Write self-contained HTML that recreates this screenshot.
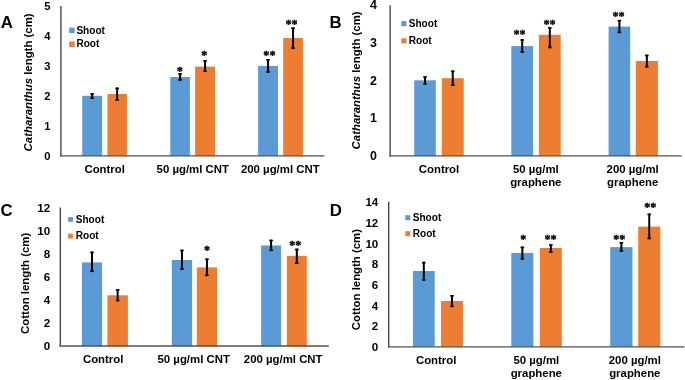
<!DOCTYPE html>
<html><head><meta charset="utf-8"><style>
html,body{margin:0;padding:0;background:#fff;}
body{width:685px;height:380px;overflow:hidden;}
svg{display:block;will-change:transform;}
text{font-family:"Liberation Sans",sans-serif;font-weight:bold;fill:#000;}
</style></head><body>
<svg width="685" height="380" viewBox="0 0 685 380">
<rect x="0" y="0" width="685" height="380" fill="#fff"/>
<text x="0.80" y="27.90" font-size="16.8" text-anchor="start" >A</text>
<rect x="82.20" y="95.80" width="19.90" height="60.00" fill="#5B9BD5"/>
<rect x="107.40" y="94.00" width="19.50" height="61.80" fill="#ED7D31"/>
<rect x="170.30" y="77.00" width="19.60" height="78.80" fill="#5B9BD5"/>
<rect x="195.10" y="66.60" width="19.90" height="89.20" fill="#ED7D31"/>
<rect x="258.10" y="65.90" width="19.90" height="89.90" fill="#5B9BD5"/>
<rect x="283.20" y="38.00" width="19.70" height="117.80" fill="#ED7D31"/>
<line x1="60.90" y1="6.00" x2="60.90" y2="156.40" stroke="#3a3a3a" stroke-width="1.3"/>
<line x1="60.30" y1="155.80" x2="324.30" y2="155.80" stroke="#505050" stroke-width="1.3"/>
<line x1="92.15" y1="93.20" x2="92.15" y2="99.00" stroke="#000" stroke-width="2.0"/>
<line x1="90.35" y1="94.00" x2="93.95" y2="94.00" stroke="#000" stroke-width="1.6"/>
<line x1="90.35" y1="98.20" x2="93.95" y2="98.20" stroke="#000" stroke-width="1.6"/>
<line x1="117.15" y1="87.60" x2="117.15" y2="100.80" stroke="#000" stroke-width="2.0"/>
<line x1="115.35" y1="88.40" x2="118.95" y2="88.40" stroke="#000" stroke-width="1.6"/>
<line x1="115.35" y1="100.00" x2="118.95" y2="100.00" stroke="#000" stroke-width="1.6"/>
<line x1="180.10" y1="73.00" x2="180.10" y2="80.60" stroke="#000" stroke-width="2.0"/>
<line x1="178.30" y1="73.80" x2="181.90" y2="73.80" stroke="#000" stroke-width="1.6"/>
<line x1="178.30" y1="79.80" x2="181.90" y2="79.80" stroke="#000" stroke-width="1.6"/>
<line x1="205.05" y1="60.20" x2="205.05" y2="71.90" stroke="#000" stroke-width="2.0"/>
<line x1="203.25" y1="61.00" x2="206.85" y2="61.00" stroke="#000" stroke-width="1.6"/>
<line x1="203.25" y1="71.10" x2="206.85" y2="71.10" stroke="#000" stroke-width="1.6"/>
<line x1="268.05" y1="59.00" x2="268.05" y2="72.70" stroke="#000" stroke-width="2.0"/>
<line x1="266.25" y1="59.80" x2="269.85" y2="59.80" stroke="#000" stroke-width="1.6"/>
<line x1="266.25" y1="71.90" x2="269.85" y2="71.90" stroke="#000" stroke-width="1.6"/>
<line x1="293.05" y1="27.40" x2="293.05" y2="48.80" stroke="#000" stroke-width="2.0"/>
<line x1="291.25" y1="28.20" x2="294.85" y2="28.20" stroke="#000" stroke-width="1.6"/>
<line x1="291.25" y1="48.00" x2="294.85" y2="48.00" stroke="#000" stroke-width="1.6"/>
<text x="179.80" y="74.79" font-size="12.1" text-anchor="middle" stroke="#000" stroke-width="0.35" style="font-family:'Liberation Serif',serif">*</text>
<text x="204.25" y="58.99" font-size="12.1" text-anchor="middle" stroke="#000" stroke-width="0.35" style="font-family:'Liberation Serif',serif">*</text>
<text x="269.40" y="58.99" font-size="12.1" text-anchor="middle" stroke="#000" stroke-width="0.35" style="font-family:'Liberation Serif',serif">**</text>
<text x="291.55" y="27.59" font-size="12.1" text-anchor="middle" stroke="#000" stroke-width="0.35" style="font-family:'Liberation Serif',serif">**</text>
<text x="50.60" y="160.01" font-size="11.2" text-anchor="end" >0</text>
<text x="50.60" y="130.05" font-size="11.2" text-anchor="end" >1</text>
<text x="50.60" y="100.09" font-size="11.2" text-anchor="end" >2</text>
<text x="50.60" y="70.13" font-size="11.2" text-anchor="end" >3</text>
<text x="50.60" y="40.17" font-size="11.2" text-anchor="end" >4</text>
<text x="50.60" y="10.21" font-size="11.2" text-anchor="end" >5</text>
<rect x="69.20" y="27.60" width="5.50" height="5.50" fill="#5B9BD5"/>
<rect x="69.20" y="41.50" width="5.50" height="5.50" fill="#ED7D31"/>
<text x="76.40" y="33.60" font-size="10.1" text-anchor="start" >Shoot</text>
<text x="76.40" y="47.10" font-size="10.1" text-anchor="start" >Root</text>
<text transform="translate(31.50,82.40) rotate(-90)" x="0" y="0" font-size="11.4" text-anchor="middle"><tspan font-style="italic">Catharanthus</tspan> length (cm)</text>
<text x="104.70" y="172.90" font-size="11.4" text-anchor="middle" >Control</text>
<text x="192.80" y="172.70" font-size="11.4" text-anchor="middle" >50 µg/ml CNT</text>
<text x="280.30" y="172.90" font-size="11.4" text-anchor="middle" >200 µg/ml CNT</text>
<text x="329.50" y="28.20" font-size="16.8" text-anchor="start" >B</text>
<rect x="414.20" y="80.30" width="21.60" height="75.60" fill="#5B9BD5"/>
<rect x="441.80" y="78.20" width="21.90" height="77.70" fill="#ED7D31"/>
<rect x="511.30" y="46.10" width="21.80" height="109.80" fill="#5B9BD5"/>
<rect x="538.90" y="34.80" width="21.80" height="121.10" fill="#ED7D31"/>
<rect x="608.60" y="26.60" width="21.60" height="129.30" fill="#5B9BD5"/>
<rect x="635.80" y="61.00" width="22.10" height="94.90" fill="#ED7D31"/>
<line x1="390.10" y1="5.20" x2="390.10" y2="156.50" stroke="#3a3a3a" stroke-width="1.3"/>
<line x1="389.50" y1="155.90" x2="681.70" y2="155.90" stroke="#505050" stroke-width="1.3"/>
<line x1="425.00" y1="76.30" x2="425.00" y2="84.50" stroke="#000" stroke-width="2.0"/>
<line x1="423.20" y1="77.10" x2="426.80" y2="77.10" stroke="#000" stroke-width="1.6"/>
<line x1="423.20" y1="83.70" x2="426.80" y2="83.70" stroke="#000" stroke-width="1.6"/>
<line x1="452.75" y1="70.50" x2="452.75" y2="85.80" stroke="#000" stroke-width="2.0"/>
<line x1="450.95" y1="71.30" x2="454.55" y2="71.30" stroke="#000" stroke-width="1.6"/>
<line x1="450.95" y1="85.00" x2="454.55" y2="85.00" stroke="#000" stroke-width="1.6"/>
<line x1="522.20" y1="39.20" x2="522.20" y2="52.70" stroke="#000" stroke-width="2.0"/>
<line x1="520.40" y1="40.00" x2="524.00" y2="40.00" stroke="#000" stroke-width="1.6"/>
<line x1="520.40" y1="51.90" x2="524.00" y2="51.90" stroke="#000" stroke-width="1.6"/>
<line x1="549.80" y1="27.10" x2="549.80" y2="48.20" stroke="#000" stroke-width="2.0"/>
<line x1="548.00" y1="27.90" x2="551.60" y2="27.90" stroke="#000" stroke-width="1.6"/>
<line x1="548.00" y1="47.40" x2="551.60" y2="47.40" stroke="#000" stroke-width="1.6"/>
<line x1="619.40" y1="19.90" x2="619.40" y2="33.10" stroke="#000" stroke-width="2.0"/>
<line x1="617.60" y1="20.70" x2="621.20" y2="20.70" stroke="#000" stroke-width="1.6"/>
<line x1="617.60" y1="32.30" x2="621.20" y2="32.30" stroke="#000" stroke-width="1.6"/>
<line x1="646.85" y1="54.70" x2="646.85" y2="67.40" stroke="#000" stroke-width="2.0"/>
<line x1="645.05" y1="55.50" x2="648.65" y2="55.50" stroke="#000" stroke-width="1.6"/>
<line x1="645.05" y1="66.60" x2="648.65" y2="66.60" stroke="#000" stroke-width="1.6"/>
<text x="519.60" y="38.29" font-size="12.1" text-anchor="middle" stroke="#000" stroke-width="0.35" style="font-family:'Liberation Serif',serif">**</text>
<text x="549.60" y="28.49" font-size="12.1" text-anchor="middle" stroke="#000" stroke-width="0.35" style="font-family:'Liberation Serif',serif">**</text>
<text x="618.50" y="19.59" font-size="12.1" text-anchor="middle" stroke="#000" stroke-width="0.35" style="font-family:'Liberation Serif',serif">**</text>
<text x="377.00" y="159.94" font-size="12.4" text-anchor="end" >0</text>
<text x="377.00" y="122.26" font-size="12.4" text-anchor="end" >1</text>
<text x="377.00" y="84.59" font-size="12.4" text-anchor="end" >2</text>
<text x="377.00" y="46.91" font-size="12.4" text-anchor="end" >3</text>
<text x="377.00" y="9.24" font-size="12.4" text-anchor="end" >4</text>
<rect x="401.30" y="21.10" width="5.10" height="5.10" fill="#5B9BD5"/>
<rect x="401.30" y="38.30" width="5.10" height="5.10" fill="#ED7D31"/>
<text x="408.70" y="26.70" font-size="10.1" text-anchor="start" >Shoot</text>
<text x="408.70" y="43.70" font-size="10.1" text-anchor="start" >Root</text>
<text transform="translate(360.00,80.40) rotate(-90)" x="0" y="0" font-size="11.4" text-anchor="middle"><tspan font-style="italic">Catharanthus</tspan> length (cm)</text>
<text x="439.00" y="173.40" font-size="11.4" text-anchor="middle" >Control</text>
<text x="535.80" y="173.40" font-size="11.4" text-anchor="middle" >50 µg/ml</text>
<text x="535.80" y="186.40" font-size="11.4" text-anchor="middle" >graphene</text>
<text x="632.70" y="173.40" font-size="11.4" text-anchor="middle" >200 µg/ml</text>
<text x="632.70" y="186.40" font-size="11.4" text-anchor="middle" >graphene</text>
<text x="0.50" y="216.30" font-size="16.8" text-anchor="start" >C</text>
<rect x="81.90" y="262.40" width="20.20" height="83.60" fill="#5B9BD5"/>
<rect x="107.40" y="295.30" width="20.50" height="50.70" fill="#ED7D31"/>
<rect x="171.80" y="260.00" width="20.30" height="86.00" fill="#5B9BD5"/>
<rect x="196.80" y="267.40" width="20.30" height="78.60" fill="#ED7D31"/>
<rect x="261.10" y="245.50" width="20.00" height="100.50" fill="#5B9BD5"/>
<rect x="286.80" y="255.90" width="20.00" height="90.10" fill="#ED7D31"/>
<line x1="60.30" y1="207.60" x2="60.30" y2="346.60" stroke="#3a3a3a" stroke-width="1.3"/>
<line x1="59.70" y1="346.00" x2="328.80" y2="346.00" stroke="#505050" stroke-width="1.3"/>
<line x1="92.00" y1="251.60" x2="92.00" y2="272.10" stroke="#000" stroke-width="2.0"/>
<line x1="90.20" y1="252.40" x2="93.80" y2="252.40" stroke="#000" stroke-width="1.6"/>
<line x1="90.20" y1="271.30" x2="93.80" y2="271.30" stroke="#000" stroke-width="1.6"/>
<line x1="117.65" y1="289.20" x2="117.65" y2="301.30" stroke="#000" stroke-width="2.0"/>
<line x1="115.85" y1="290.00" x2="119.45" y2="290.00" stroke="#000" stroke-width="1.6"/>
<line x1="115.85" y1="300.50" x2="119.45" y2="300.50" stroke="#000" stroke-width="1.6"/>
<line x1="181.95" y1="249.70" x2="181.95" y2="269.80" stroke="#000" stroke-width="2.0"/>
<line x1="180.15" y1="250.50" x2="183.75" y2="250.50" stroke="#000" stroke-width="1.6"/>
<line x1="180.15" y1="269.00" x2="183.75" y2="269.00" stroke="#000" stroke-width="1.6"/>
<line x1="206.95" y1="258.50" x2="206.95" y2="276.10" stroke="#000" stroke-width="2.0"/>
<line x1="205.15" y1="259.30" x2="208.75" y2="259.30" stroke="#000" stroke-width="1.6"/>
<line x1="205.15" y1="275.30" x2="208.75" y2="275.30" stroke="#000" stroke-width="1.6"/>
<line x1="271.10" y1="239.70" x2="271.10" y2="251.10" stroke="#000" stroke-width="2.0"/>
<line x1="269.30" y1="240.50" x2="272.90" y2="240.50" stroke="#000" stroke-width="1.6"/>
<line x1="269.30" y1="250.30" x2="272.90" y2="250.30" stroke="#000" stroke-width="1.6"/>
<line x1="296.80" y1="248.70" x2="296.80" y2="263.90" stroke="#000" stroke-width="2.0"/>
<line x1="295.00" y1="249.50" x2="298.60" y2="249.50" stroke="#000" stroke-width="1.6"/>
<line x1="295.00" y1="263.10" x2="298.60" y2="263.10" stroke="#000" stroke-width="1.6"/>
<text x="207.05" y="254.49" font-size="12.1" text-anchor="middle" stroke="#000" stroke-width="0.35" style="font-family:'Liberation Serif',serif">*</text>
<text x="295.30" y="249.29" font-size="12.1" text-anchor="middle" stroke="#000" stroke-width="0.35" style="font-family:'Liberation Serif',serif">**</text>
<text x="50.20" y="350.35" font-size="11.6" text-anchor="end" >0</text>
<text x="50.20" y="327.29" font-size="11.6" text-anchor="end" >2</text>
<text x="50.20" y="304.22" font-size="11.6" text-anchor="end" >4</text>
<text x="50.20" y="281.15" font-size="11.6" text-anchor="end" >6</text>
<text x="50.20" y="258.09" font-size="11.6" text-anchor="end" >8</text>
<text x="50.20" y="235.02" font-size="11.6" text-anchor="end" >10</text>
<text x="50.20" y="211.95" font-size="11.6" text-anchor="end" >12</text>
<rect x="68.10" y="217.10" width="4.80" height="4.80" fill="#5B9BD5"/>
<rect x="68.10" y="233.70" width="4.80" height="4.80" fill="#ED7D31"/>
<text x="75.70" y="222.70" font-size="10.1" text-anchor="start" >Shoot</text>
<text x="75.70" y="238.90" font-size="10.1" text-anchor="start" >Root</text>
<text transform="translate(29.00,283.40) rotate(-90)" x="0" y="0" font-size="11.4" text-anchor="middle">Cotton length (cm)</text>
<text x="103.20" y="363.20" font-size="11.4" text-anchor="middle" >Control</text>
<text x="193.70" y="363.40" font-size="11.4" text-anchor="middle" >50 µg/ml CNT</text>
<text x="283.20" y="363.40" font-size="11.4" text-anchor="middle" >200 µg/ml CNT</text>
<text x="329.70" y="216.20" font-size="16.8" text-anchor="start" >D</text>
<rect x="412.90" y="271.00" width="21.80" height="75.80" fill="#5B9BD5"/>
<rect x="441.00" y="301.00" width="21.90" height="45.80" fill="#ED7D31"/>
<rect x="511.30" y="252.90" width="22.10" height="93.90" fill="#5B9BD5"/>
<rect x="539.90" y="248.00" width="21.90" height="98.80" fill="#ED7D31"/>
<rect x="610.20" y="247.10" width="22.30" height="99.70" fill="#5B9BD5"/>
<rect x="638.20" y="226.60" width="22.10" height="120.20" fill="#ED7D31"/>
<line x1="388.70" y1="201.80" x2="388.70" y2="347.40" stroke="#3a3a3a" stroke-width="1.3"/>
<line x1="388.10" y1="346.80" x2="684.40" y2="346.80" stroke="#505050" stroke-width="1.3"/>
<line x1="423.80" y1="261.80" x2="423.80" y2="280.60" stroke="#000" stroke-width="2.0"/>
<line x1="422.00" y1="262.60" x2="425.60" y2="262.60" stroke="#000" stroke-width="1.6"/>
<line x1="422.00" y1="279.80" x2="425.60" y2="279.80" stroke="#000" stroke-width="1.6"/>
<line x1="451.95" y1="295.00" x2="451.95" y2="307.10" stroke="#000" stroke-width="2.0"/>
<line x1="450.15" y1="295.80" x2="453.75" y2="295.80" stroke="#000" stroke-width="1.6"/>
<line x1="450.15" y1="306.30" x2="453.75" y2="306.30" stroke="#000" stroke-width="1.6"/>
<line x1="522.35" y1="246.60" x2="522.35" y2="259.50" stroke="#000" stroke-width="2.0"/>
<line x1="520.55" y1="247.40" x2="524.15" y2="247.40" stroke="#000" stroke-width="1.6"/>
<line x1="520.55" y1="258.70" x2="524.15" y2="258.70" stroke="#000" stroke-width="1.6"/>
<line x1="550.85" y1="244.30" x2="550.85" y2="252.90" stroke="#000" stroke-width="2.0"/>
<line x1="549.05" y1="245.10" x2="552.65" y2="245.10" stroke="#000" stroke-width="1.6"/>
<line x1="549.05" y1="252.10" x2="552.65" y2="252.10" stroke="#000" stroke-width="1.6"/>
<line x1="621.35" y1="242.10" x2="621.35" y2="251.70" stroke="#000" stroke-width="2.0"/>
<line x1="619.55" y1="242.90" x2="623.15" y2="242.90" stroke="#000" stroke-width="1.6"/>
<line x1="619.55" y1="250.90" x2="623.15" y2="250.90" stroke="#000" stroke-width="1.6"/>
<line x1="649.25" y1="213.60" x2="649.25" y2="239.20" stroke="#000" stroke-width="2.0"/>
<line x1="647.45" y1="214.40" x2="651.05" y2="214.40" stroke="#000" stroke-width="1.6"/>
<line x1="647.45" y1="238.40" x2="651.05" y2="238.40" stroke="#000" stroke-width="1.6"/>
<text x="523.15" y="242.69" font-size="12.1" text-anchor="middle" stroke="#000" stroke-width="0.35" style="font-family:'Liberation Serif',serif">*</text>
<text x="550.60" y="242.69" font-size="12.1" text-anchor="middle" stroke="#000" stroke-width="0.35" style="font-family:'Liberation Serif',serif">**</text>
<text x="619.20" y="243.49" font-size="12.1" text-anchor="middle" stroke="#000" stroke-width="0.35" style="font-family:'Liberation Serif',serif">**</text>
<text x="650.20" y="211.39" font-size="12.1" text-anchor="middle" stroke="#000" stroke-width="0.35" style="font-family:'Liberation Serif',serif">**</text>
<text x="378.30" y="351.15" font-size="11.6" text-anchor="end" >0</text>
<text x="378.30" y="330.44" font-size="11.6" text-anchor="end" >2</text>
<text x="378.30" y="309.72" font-size="11.6" text-anchor="end" >4</text>
<text x="378.30" y="289.01" font-size="11.6" text-anchor="end" >6</text>
<text x="378.30" y="268.30" font-size="11.6" text-anchor="end" >8</text>
<text x="378.30" y="247.58" font-size="11.6" text-anchor="end" >10</text>
<text x="378.30" y="226.87" font-size="11.6" text-anchor="end" >12</text>
<text x="378.30" y="206.15" font-size="11.6" text-anchor="end" >14</text>
<rect x="405.30" y="215.20" width="5.00" height="5.00" fill="#5B9BD5"/>
<rect x="405.30" y="231.20" width="5.00" height="5.00" fill="#ED7D31"/>
<text x="412.70" y="220.70" font-size="10.1" text-anchor="start" >Shoot</text>
<text x="412.70" y="236.70" font-size="10.1" text-anchor="start" >Root</text>
<text transform="translate(359.50,279.60) rotate(-90)" x="0" y="0" font-size="11.4" text-anchor="middle">Cotton length (cm)</text>
<text x="436.20" y="363.70" font-size="11.4" text-anchor="middle" >Control</text>
<text x="536.30" y="363.80" font-size="11.4" text-anchor="middle" >50 µg/ml</text>
<text x="536.30" y="376.80" font-size="11.4" text-anchor="middle" >graphene</text>
<text x="634.80" y="363.80" font-size="11.4" text-anchor="middle" >200 µg/ml</text>
<text x="634.80" y="376.80" font-size="11.4" text-anchor="middle" >graphene</text>
</svg>
</body></html>
